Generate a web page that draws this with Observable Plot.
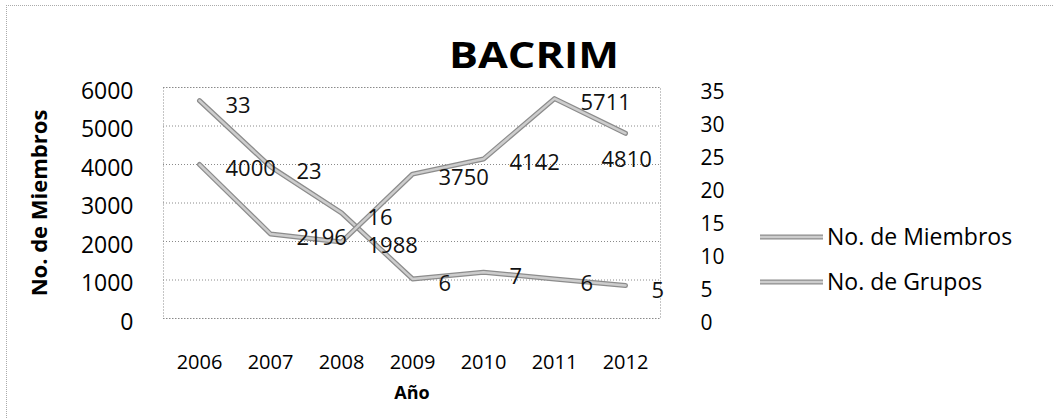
<!DOCTYPE html>
<html>
<head>
<meta charset="utf-8">
<script src="https://cdn.jsdelivr.net/npm/d3@7"></script>
<script src="https://cdn.jsdelivr.net/npm/@observablehq/plot@0.6"></script>
<style>
  html, body { margin: 0; padding: 0; background: #fff; }
  #wrap { position: relative; width: 1054px; height: 418px; overflow: hidden; background: #fff; font-family: "Open Sans", sans-serif; }
  #frame { position: absolute; left: 6px; top: 5px; width: 1100px; height: 500px; border-top: 1px dotted #aaa; border-left: 1px dotted #aaa; }
  #title { position: absolute; left: 534px; top: 55px; transform: translate(-50%, -50%) scaleX(1.2); font-family: "Open Sans", sans-serif; font-weight: 700; font-size: 36px; color: #000; white-space: nowrap; line-height: 1; }
  #ytitle { position: absolute; left: 38px; top: 203px; transform: translate(-50%, -50%) rotate(-90deg); font-family: "Open Sans", sans-serif; font-weight: 700; font-size: 22px; color: #000; white-space: nowrap; line-height: 1; }
  #chart, #overlay { position: absolute; left: 0; top: 0; }
</style>
</head>
<body>
<div id="wrap">
  <div id="frame"></div>
  <div id="chart"></div>
  <svg id="overlay" width="1054" height="418"></svg>
  <div id="title"></div>
  <div id="ytitle"></div>
</div>
<script>
// ---- data ----
const years = [2006, 2007, 2008, 2009, 2010, 2011, 2012];
const miembros = [4000, 2196, 1988, 3750, 4142, 5711, 4810];
const grupos = [33, 23, 16, 6, 7, 6, 5];
const leftTicks = [0, 1000, 2000, 3000, 4000, 5000, 6000];
const rightTicks = [0, 5, 10, 15, 20, 25, 30, 35];
const seriesNames = ["No. de Miembros", "No. de Grupos"];
const chartTitle = "BACRIM";
const yTitle = "No. de Miembros";
const xTitle = "Año";

const leftMax = 6000, rightMax = 35;
const toLeft = v => v * leftMax / rightMax;

const rowsM = years.map((y, i) => ({year: y, v: miembros[i], label: String(miembros[i])}));
const rowsG = years.map((y, i) => ({year: y, v: toLeft(grupos[i]), label: String(grupos[i])}));

const lineOuter = "#8c8c8c", lineInner = "#cdcdcd";
const font = "Open Sans";

document.getElementById("title").textContent = chartTitle;
document.getElementById("ytitle").textContent = yTitle;

const chart = Plot.plot({
  width: 1054,
  height: 418,
  marginLeft: 163,
  marginRight: 394,
  marginTop: 87,
  marginBottom: 100,
  style: {fontFamily: font, background: "transparent", color: "#000", overflow: "visible"},
  x: {type: "point", domain: years, padding: 0.5},
  y: {domain: [0, leftMax]},
  marks: [
    Plot.gridY(leftTicks, {stroke: "#8a8a8a", strokeOpacity: 1, strokeDasharray: "1,2"}),
    Plot.frame({stroke: "#8a8a8a", strokeDasharray: "1,2"}),
    // lines (outer + inner to mimic the scanned grey texture)
    Plot.line(rowsG, {x: "year", y: "v", stroke: lineOuter, strokeWidth: 5}),
    Plot.line(rowsG, {x: "year", y: "v", stroke: lineInner, strokeWidth: 2.5}),
    Plot.line(rowsM, {x: "year", y: "v", stroke: lineOuter, strokeWidth: 5}),
    Plot.line(rowsM, {x: "year", y: "v", stroke: lineInner, strokeWidth: 2.5}),
    // data labels
    Plot.text(rowsG, {x: "year", y: "v", text: "label", textAnchor: "start", dx: 26, dy: 5, fontSize: 22, fill: "#111"}),
    Plot.text(rowsM, {filter: d => d.year !== 2012, x: "year", y: "v", text: "label", textAnchor: "start", dx: 26, dy: 4, fontSize: 22, fill: "#111"}),
    Plot.text(rowsM, {filter: d => d.year === 2012, x: "year", y: "v", text: "label", textAnchor: "start", dx: -24, dy: 27, fontSize: 22, fill: "#111"}),
    // axes
    Plot.axisX({tickSize: 0, tickPadding: 36, fontSize: 20, label: null, tickFormat: d => String(d)}),
    Plot.axisY(leftTicks, {anchor: "left", tickSize: 0, tickPadding: 30, fontSize: 23, dy: 4, label: null, tickFormat: d => String(d)}),
    Plot.axisY(rightTicks.map(toLeft), {anchor: "right", tickSize: 0, tickPadding: 40, fontSize: 21, dy: 5, label: null,
      tickFormat: d => String(Math.round(d * rightMax / leftMax))}),
    // x axis title
    Plot.text([xTitle], {frameAnchor: "bottom", dy: 80, fontSize: 18, fontWeight: "bold", fill: "#000"})
  ]
});
document.getElementById("chart").appendChild(chart);

// legend
const ov = d3.select("#overlay");
const legendY = [237, 282];
seriesNames.forEach((name, i) => {
  const g = ov.append("g");
  g.append("line").attr("x1", 760).attr("x2", 823).attr("y1", legendY[i]).attr("y2", legendY[i])
    .attr("stroke", lineOuter).attr("stroke-width", 5);
  g.append("line").attr("x1", 760).attr("x2", 823).attr("y1", legendY[i]).attr("y2", legendY[i])
    .attr("stroke", lineInner).attr("stroke-width", 2.5);
  g.append("text").attr("x", 827).attr("y", legendY[i]).attr("dy", "0.35em")
    .attr("font-family", font).attr("font-size", 23).attr("fill", "#000").text(name);
});
</script>
</body>
</html>
